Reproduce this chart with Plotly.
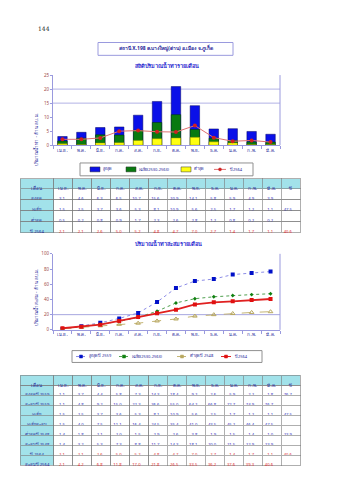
import plotly.graph_objects as go

W, H = 339, 480

months = ["เม.ย.", "พ.ค.", "มิ.ย.", "ก.ค.", "ส.ค.", "ก.ย.", "ต.ค.", "พ.ย.", "ธ.ค.", "ม.ค.", "ก.พ.", "มี.ค."]

# monthly statistics (million m3)
max_month = [3.1, 4.6, 6.3, 6.5, 10.7, 15.6, 20.9, 14.1, 5.8, 5.9, 4.9, 3.9]
avg_month = [1.5, 2.5, 3.7, 3.6, 5.3, 8.1, 10.9, 5.6, 2.5, 1.7, 1.2, 1.1]
min_month = [0.5, 0.2, 0.8, 0.9, 1.7, 2.3, 2.6, 2.8, 1.2, 0.8, 0.2, 0.2]
y2564 = [2.1, 2.1, 2.6, 5.0, 5.2, 4.8, 4.7, 7.0, 2.7, 1.4, 1.7, 1.1]
avg_year = 47.5
y2564_year = 40.6

# second table / cumulative chart
max2559 = [1.1, 3.7, 4.4, 5.8, 7.3, 14.3, 18.4, 9.2, 2.6, 5.9, 2.2, 1.8]
cum2559 = [1.1, 4.8, 9.2, 15.0, 22.3, 36.6, 55.0, 64.2, 66.8, 72.7, 74.9, 76.7]
cum_avg = [1.5, 4.0, 7.5, 11.1, 16.4, 24.5, 35.4, 41.0, 43.5, 45.2, 46.4, 47.5]
min2548 = [1.4, 1.8, 2.1, 2.0, 1.5, 2.9, 2.6, 3.8, 1.9, 1.5, 1.4, 1.0]
cum2548 = [1.4, 3.2, 5.3, 7.3, 8.8, 11.7, 14.3, 18.1, 20.0, 21.5, 22.9, 23.9]
cum2564 = [2.1, 4.2, 6.8, 11.8, 17.0, 21.8, 26.5, 33.5, 36.2, 37.6, 39.3, 40.6]
max2559_year = 76.7
min2548_year = 23.9

FONT = "Noto Sans, DejaVu Sans, sans-serif"
NAVY = "#1f1f9a"
AXC = "#9a9ade"
TICKC = "#a04848"
CYAN = "#a2e2ea"
NB = "\u00a0"
DY = 7  # vertical compensation for bold Thai glyph box


def px(x):
    return x / W


def py(y):
    return 1 - y / H


fig = go.Figure()

# ---- chart 1: overlaid bars ----
fig.add_trace(go.Bar(x=months, y=max_month, marker=dict(color="#0a10e8", line=dict(width=0.5, color="#000066")),
                     width=0.5, xaxis="x", yaxis="y", showlegend=False))
fig.add_trace(go.Bar(x=months, y=avg_month, marker=dict(color="#087a10", line=dict(width=0.5, color="#003300")),
                     width=0.5, xaxis="x", yaxis="y", showlegend=False))
fig.add_trace(go.Bar(x=months, y=min_month, marker=dict(color="#ffff10", line=dict(width=0.5, color="#888800")),
                     width=0.5, xaxis="x", yaxis="y", showlegend=False))
fig.add_trace(go.Scatter(x=months, y=y2564, mode="lines+markers", line=dict(color="#e07070", width=1),
                         marker=dict(color="#d02020", size=4, symbol="circle"), xaxis="x", yaxis="y",
                         showlegend=False))

# ---- chart 2: cumulative lines ----
fig.add_trace(go.Scatter(x=months, y=cum2559, mode="lines+markers",
                         line=dict(color="#8c8ce6", width=1, dash="dot"),
                         marker=dict(color="#0010c8", size=4, symbol="square"), xaxis="x2", yaxis="y2",
                         showlegend=False))
fig.add_trace(go.Scatter(x=months, y=cum_avg, mode="lines+markers",
                         line=dict(color="#50a050", width=1, dash="dot"),
                         marker=dict(color="#108010", size=3, symbol="diamond"), xaxis="x2", yaxis="y2",
                         showlegend=False))
fig.add_trace(go.Scatter(x=months, y=cum2548, mode="lines+markers",
                         line=dict(color="#c4b474", width=1, dash="dash"),
                         marker=dict(color="#b8a860", size=4, symbol="triangle-up-open"), xaxis="x2", yaxis="y2",
                         showlegend=False))
fig.add_trace(go.Scatter(x=months, y=cum2564, mode="lines+markers",
                         line=dict(color="#e02020", width=1.8),
                         marker=dict(color="#e01010", size=4, symbol="square"), xaxis="x2", yaxis="y2",
                         showlegend=False))


def fmt(v):
    return "" if v is None else f"{v:.1f}"


# ---- table 1 ----
t1_labels = ["สูงสุด", "เฉลี่ย", "ต่ำสุด", "ปี" + NB + "2564"]
t1_rows = [max_month + [None], avg_month + [avg_year], min_month + [None], y2564 + [y2564_year]]
t1_cols = [t1_labels] + [[fmt(r[i]) for r in t1_rows] for i in range(13)]
t1_colors = [[NAVY] * 4] + [["#3030c0", "#3030c0", "#3030c0", "#e03030"] for _ in range(13)]
fig.add_trace(go.Table(
    domain=dict(x=[px(20), px(300)], y=[py(236), py(178)]),
    columnwidth=[34] + [19] * 13,
    header=dict(values=["เดือน"] + months + ["ปี"], fill_color=CYAN, line=dict(color="#7a7a7a", width=0.6),
                font=dict(size=4.5, color=NAVY, family=FONT), align="center", height=10),
    cells=dict(values=t1_cols, fill_color=[[CYAN] * 4] + [["white"] * 4] * 13,
               line=dict(color="#7a7a7a", width=0.6), font=dict(size=4.2, color=t1_colors, family=FONT),
               align=["center"] + ["right"] * 13, height=11)
))

# ---- table 2 ----
t2_labels = ["สูงสุดปี 2559", "สะสมปี 2559", "เฉลี่ย", "เฉลี่ยสะสม", "ต่ำสุดปี 2548", "สะสมปี 2548",
             "ปี 2564", "สะสมปี 2564"]
t2_labels = [s.replace(" ", NB) for s in t2_labels]
t2_rows = [max2559 + [max2559_year], cum2559 + [None], avg_month + [avg_year], cum_avg + [None],
           min2548 + [min2548_year], cum2548 + [None], y2564 + [y2564_year], cum2564 + [None]]
t2_cols = [t2_labels] + [[fmt(r[i]) for r in t2_rows] for i in range(13)]
rowc = ["#3030c0"] * 6 + ["#e03030"] * 2
t2_colors = [[NAVY] * 8] + [rowc for _ in range(13)]
fig.add_trace(go.Table(
    domain=dict(x=[px(20), px(300)], y=[py(470), py(377)]),
    columnwidth=[34] + [19] * 13,
    header=dict(values=["เดือน"] + months + ["ปี"], fill_color=CYAN, line=dict(color="#7a7a7a", width=0.6),
                font=dict(size=4.5, color=NAVY, family=FONT), align="center", height=10),
    cells=dict(values=t2_cols, fill_color=[[CYAN] * 8] + [["white"] * 8] * 13,
               line=dict(color="#7a7a7a", width=0.6), font=dict(size=4.2, color=t2_colors, family=FONT),
               align=["center"] + ["right"] * 13, height=10)
))

axis_common = dict(showline=True, linecolor=AXC, linewidth=1, mirror=False, zeroline=False, tickangle=0,
                   tickfont=dict(size=4.5, color=NAVY, family=FONT))

fig.update_layout(
    width=W, height=H, margin=dict(l=0, r=0, t=0, b=0),
    paper_bgcolor="white", plot_bgcolor="white",
    barmode="overlay", bargap=0.5,
    font=dict(family=FONT, size=6, color=NAVY),
    xaxis=dict(domain=[px(53), px(280)], anchor="y", type="category", range=[-0.5, 11.5],
               ticks="outside", tickson="boundaries", ticklen=3, tickcolor=AXC, showgrid=False, **axis_common),
    yaxis=dict(domain=[py(144), py(73)], anchor="x", range=[0, 25], tickvals=[0, 5, 10, 15, 20, 25],
               ticks="outside", ticklen=2, tickcolor=AXC, showgrid=False,
               showline=True, linecolor=AXC, zeroline=False,
               tickfont=dict(size=4.5, color=TICKC, family=FONT)),
    xaxis2=dict(domain=[px(53), px(280)], anchor="y2", type="category", range=[-0.5, 11.5],
                ticks="outside", tickson="boundaries", ticklen=3, tickcolor=AXC, showgrid=False, **axis_common),
    yaxis2=dict(domain=[py(331), py(254)], anchor="x2", range=[0, 100], tickvals=[0, 20, 40, 60, 80, 100],
                ticks="outside", ticklen=2, tickcolor=AXC, showgrid=False,
                showline=True, linecolor=AXC, zeroline=False,
                tickfont=dict(size=4.5, color=TICKC, family=FONT)),
)

shapes = []
# right border lines of plot areas and horizontal guide lines
shapes.append(dict(type="line", xref="x domain", yref="y domain", x0=1, x1=1, y0=0, y1=1,
                   line=dict(color=AXC, width=1)))
shapes.append(dict(type="line", xref="x2 domain", yref="y2 domain", x0=1, x1=1, y0=0, y1=1,
                   line=dict(color=AXC, width=1)))
for gv in (15, 20):
    shapes.append(dict(type="line", xref="x domain", yref="y", x0=0, x1=1, y0=gv, y1=gv,
                       line=dict(color="#a0a0e0", width=0.8), layer="below"))
shapes.append(dict(type="line", xref="x2 domain", yref="y2", x0=0, x1=1, y0=20, y1=20,
                   line=dict(color="#9090d8", width=0.8), layer="below"))

# title box
shapes.append(dict(type="rect", xref="paper", yref="paper", x0=px(98), x1=px(233), y0=py(53), y1=py(40),
                   line=dict(color="#9a9ade", width=1), fillcolor="rgba(0,0,0,0)"))

# legend 1 box
shapes.append(dict(type="rect", xref="paper", yref="paper", x0=px(80), x1=px(253), y0=py(175), y1=py(162),
                   line=dict(color="#909090", width=1), fillcolor="white", layer="below"))
leg1_sw = [(90, 100, "#0a10e8"), (126, 136, "#087a10"), (181, 191, "#ffff10")]
for x0, x1, c in leg1_sw:
    shapes.append(dict(type="rect", xref="paper", yref="paper", x0=px(x0), x1=px(x1), y0=py(171), y1=py(166),
                       line=dict(color="#333333", width=0.5), fillcolor=c))
shapes.append(dict(type="line", xref="paper", yref="paper", x0=px(214), x1=px(226), y0=py(168.5), y1=py(168.5),
                   line=dict(color="#e07070", width=1)))
shapes.append(dict(type="circle", xref="paper", yref="paper", x0=px(218.5), x1=px(221.5), y0=py(170), y1=py(167),
                   line=dict(color="#d02020", width=0.5), fillcolor="#d02020"))

# legend 2 box
shapes.append(dict(type="rect", xref="paper", yref="paper", x0=px(72), x1=px(262), y0=py(364), y1=py(352),
                   line=dict(color="#909090", width=1), fillcolor="white", layer="below"))
leg2 = [(76, 86, "#8c8ce6", "dot", "#0010c8"), (119, 129, "#50a050", "dot", "#108010"),
        (177, 187, "#c4b474", "dash", "#b8a860"), (221, 231, "#e02020", "solid", "#e01010")]
for x0, x1, lc, ds, mc in leg2:
    shapes.append(dict(type="line", xref="paper", yref="paper", x0=px(x0), x1=px(x1), y0=py(358), y1=py(358),
                       line=dict(color=lc, width=1, dash=ds)))
    cx = (x0 + x1) / 2
    shapes.append(dict(type="rect", xref="paper", yref="paper", x0=px(cx - 1.5), x1=px(cx + 1.5),
                       y0=py(359.5), y1=py(356.5), line=dict(color=mc, width=0.5), fillcolor=mc))
fig.update_layout(shapes=shapes)

ann = []
ann.append(dict(text="144", x=px(36), y=py(20), xref="paper", yref="paper", xanchor="left", showarrow=False,
                font=dict(size=6, color="#222222", family="DejaVu Serif, serif")))
ann.append(dict(text="<b>สถานี X.198 ค.บางใหญ่(ด่าน) อ.เมือง จ.ภูเก็ต</b>", x=px(165.5), y=py(46.5 - DY),
                xref="paper", yref="paper", showarrow=False, font=dict(size=5, color=NAVY)))
ann.append(dict(text="<b>สถิติปริมาณน้ำท่ารายเดือน</b>", x=px(167), y=py(64 - DY), xref="paper", yref="paper",
                showarrow=False, font=dict(size=5.5, color="#2a2ad0")))
ann.append(dict(text="<b>ปริมาณน้ำท่าสะสมรายเดือน</b>", x=px(168), y=py(244), xref="paper", yref="paper",
                showarrow=False, font=dict(size=5.5, color="#2a2ad0")))
ann.append(dict(text="ปริมาณน้ำท่า - ล้าน ลบ.ม.", x=px(31), y=py(110), xref="paper", yref="paper",
                showarrow=False, textangle=-90, font=dict(size=4.5, color=NAVY)))
ann.append(dict(text="ปริมาณน้ำสะสม - ล้าน ลบ.ม.", x=px(31), y=py(299), xref="paper", yref="paper",
                showarrow=False, textangle=-90, font=dict(size=4.5, color=NAVY)))
leg1_txt = [(101, "สูงสุด"), (137, "เฉลี่ย(2530-2563)"), (192, "ต่ำสุด"), (227, "ปี2564")]
for x, t in leg1_txt:
    ann.append(dict(text=t, x=px(x), y=py(168.5), xref="paper", yref="paper", xanchor="left",
                    showarrow=False, font=dict(size=4, color=NAVY)))
leg2_txt = [(87, "สูงสุดปี 2559"), (130, "เฉลี่ย(2530-2563)"), (188, "ต่ำสุดปี 2548"), (232, "ปี2564")]
for x, t in leg2_txt:
    ann.append(dict(text=t, x=px(x), y=py(363), xref="paper", yref="paper", xanchor="left",
                    showarrow=False, font=dict(size=4, color=NAVY)))
fig.update_layout(annotations=ann)

fig.write_html("out.html")
